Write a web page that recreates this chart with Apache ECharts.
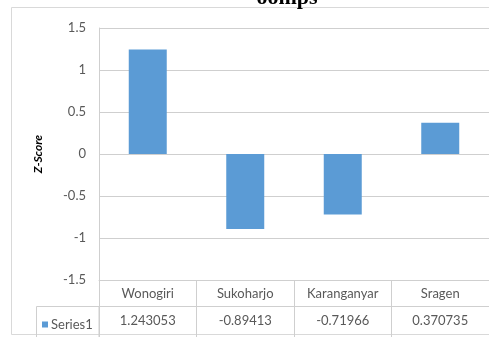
<!DOCTYPE html>
<html>
<head>
<meta charset="utf-8">
<script src="https://cdn.jsdelivr.net/npm/echarts@6/dist/echarts.min.js"></script>
<style>
html,body{margin:0;padding:0;background:#fff;overflow:hidden;}
#c{width:489px;height:337px;}
</style>
</head>
<body>
<div id="c"></div>
<script>
var categories = ['Wonogiri', 'Sukoharjo', 'Karanganyar', 'Sragen'];
var seriesName = 'Series1';
var values = [1.243053, -0.89413, -0.71966, 0.370735];
var valueLabels = ['1.243053', '-0.89413', '-0.71966', '0.370735'];
var yTickLabels = {'1.5':'1.5','1':'1','0.5':'0.5','0':'0','-0.5':'-0.5','-1':'-1','-1.5':'-1.5'};
var titleText = 'oomps';

var FONT = 'Lato';
var TXT = '#595959';
var LINE = '#cfcfcf';

var chart = echarts.init(document.getElementById('c'));
chart.setOption({
  backgroundColor: '#fff',
  animation: false,
  title: {
    text: titleText,
    left: 282, textAlign: 'center', top: -18,
    textStyle: {fontFamily: 'Liberation Serif', fontWeight: 'bold', fontSize: 22, color: '#000'}
  },
  legend: {
    data: [{name: seriesName, icon: 'rect'}],
    left: 37, top: 313,
    itemWidth: 6, itemHeight: 6, itemGap: 4,
    textStyle: {fontFamily: FONT, fontSize: 13, color: TXT, padding: [0,0,0,-2]}
  },
  graphic: [
    {type: 'rect', z: -1, shape: {x: 11.5, y: 7.5, width: 600, height: 327}, style: {fill: '#fff', stroke: '#d9d9d9', lineWidth: 1}},
    {type: 'rect', z: 1, shape: {x: 36.5, y: 306.5, width: 62.5, height: 40}, style: {fill: 'none', stroke: LINE, lineWidth: 1}}
  ],
  grid: {left: 99, top: 28, right: -3, bottom: 57},
  xAxis: [
    {
      type: 'category', data: categories, position: 'bottom',
      axisLine: {show: true, onZero: false, lineStyle: {color: LINE}},
      axisTick: {show: true, interval: 0, length: 57, lineStyle: {color: LINE}},
      axisLabel: {interval: 0, margin: 7, fontFamily: FONT, fontSize: 13, color: TXT}
    },
    {
      type: 'category', data: categories, position: 'bottom', offset: 26,
      axisLine: {show: true, onZero: false, lineStyle: {color: LINE}},
      axisTick: {show: false},
      axisLabel: {interval: 0, margin: 8, fontFamily: FONT, fontSize: 13, color: TXT,
        formatter: function (v, i) { return valueLabels[i]; }}
    }
  ],
  yAxis: {
    type: 'value', min: -1.5, max: 1.5, interval: 0.5,
    name: 'Z-Score', nameLocation: 'middle', nameGap: 55,
    nameTextStyle: {fontFamily: FONT, fontSize: 12, fontWeight: 'bold', fontStyle: 'italic', color: '#000'},
    axisLine: {show: true, lineStyle: {color: LINE}},
    axisTick: {show: false},
    splitLine: {show: true, lineStyle: {color: LINE}},
    axisLabel: {margin: 13, fontFamily: FONT, fontSize: 13, color: TXT,
      formatter: function (v) { var k = String(Math.round(v * 10) / 10); return yTickLabels[k] !== undefined ? yTickLabels[k] : k; }}
  },
  series: [{
    name: seriesName, type: 'bar', data: values, barWidth: 38,
    itemStyle: {color: '#5b9bd5'}
  }]
});
</script>
</body>
</html>
